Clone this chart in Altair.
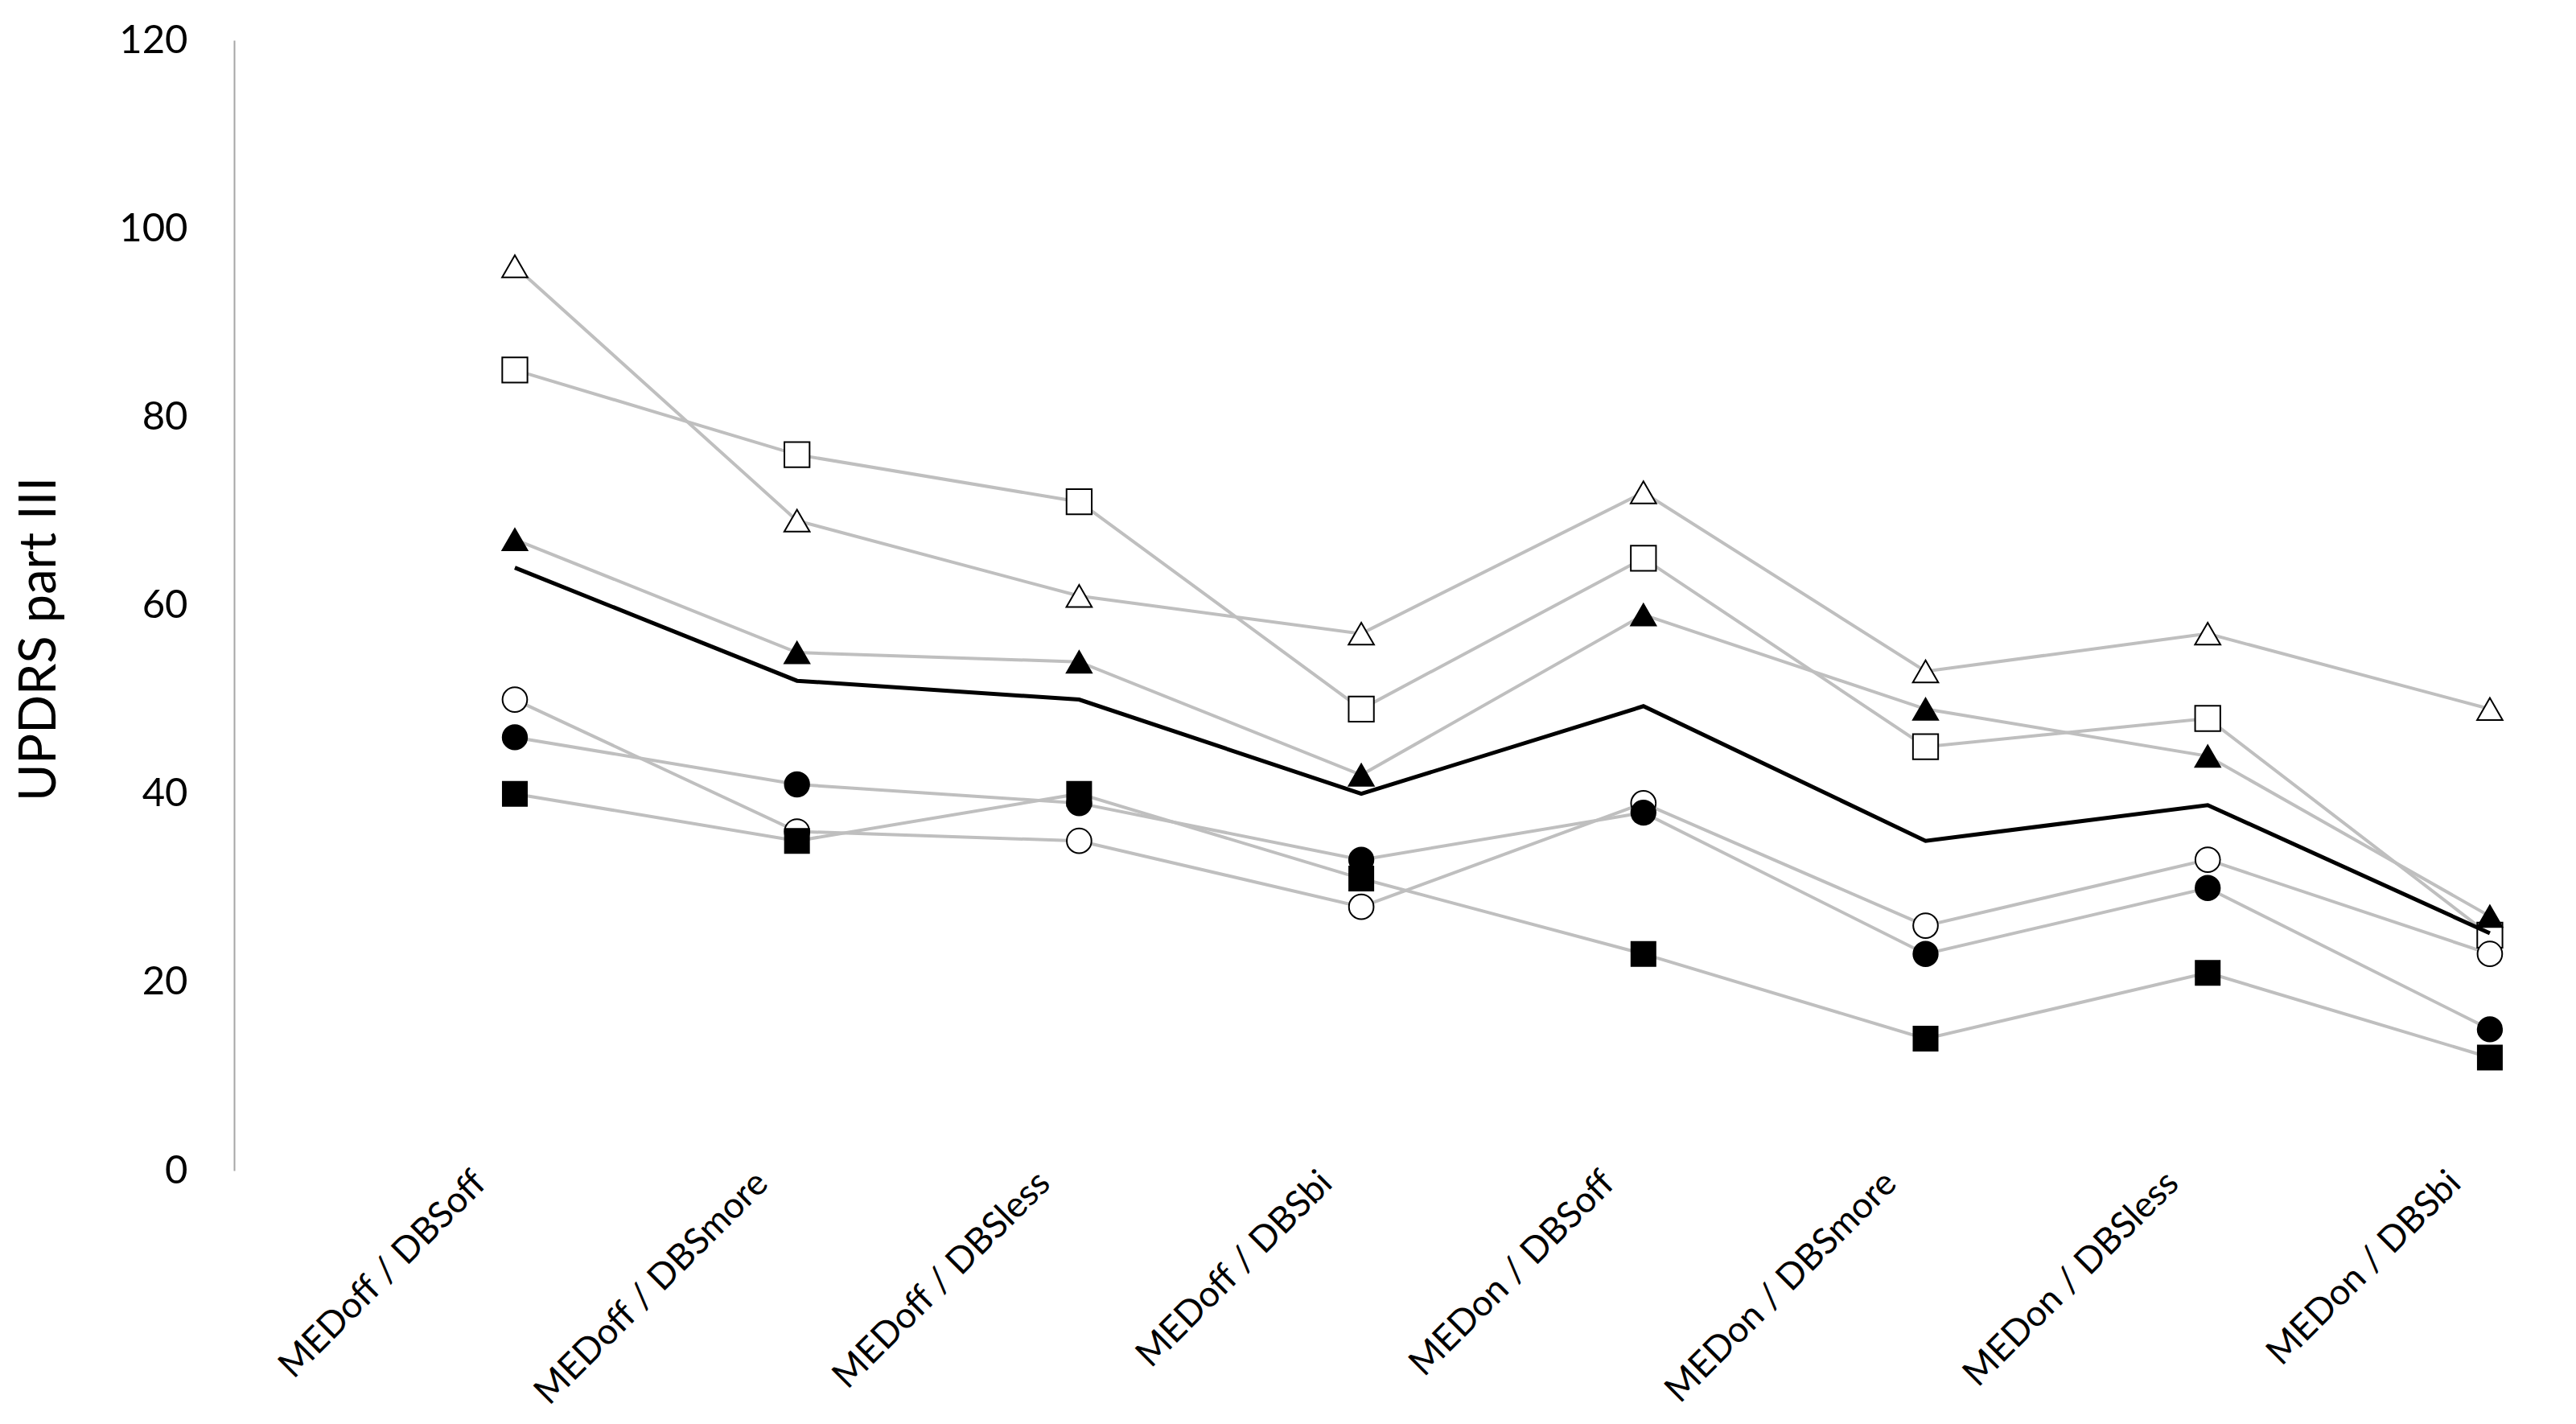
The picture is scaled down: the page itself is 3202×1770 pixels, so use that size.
import altair as alt
import pandas as pd

categories = ["MEDoff / DBSoff", "MEDoff / DBSmore", "MEDoff / DBSless", "MEDoff / DBSbi",
              "MEDon / DBSoff", "MEDon / DBSmore", "MEDon / DBSless", "MEDon / DBSbi"]

open_triangle = [96, 69, 61, 57, 72, 53, 57, 49]
open_square = [85, 76, 71, 49, 65, 45, 48, 25]
filled_triangle = [67, 55, 54, 42, 59, 49, 44, 27]
open_circle = [50, 36, 35, 28, 39, 26, 33, 23]
filled_circle = [46, 41, 39, 33, 38, 23, 30, 15]
filled_square = [40, 35, 40, 31, 23, 14, 21, 12]
mean_line = [64, 52, 50, 40, 49.3, 35, 38.8, 25.2]

y_ticks = [0, 20, 40, 60, 80, 100, 120]

series_names = ["open_triangle", "open_square", "filled_triangle",
                "open_circle", "filled_circle", "filled_square"]
series_values = [open_triangle, open_square, filled_triangle,
                 open_circle, filled_circle, filled_square]
series_shapes = ["triangle-up", "square", "triangle-up", "circle", "circle", "square"]
series_fills = ["white", "white", "black", "white", "black", "black"]
series_sizes = [1000, 900, 1000, 850, 850, 900]

rows = []
for name, vals in zip(series_names, series_values):
    for i, (c, v) in enumerate(zip(categories, vals)):
        rows.append({"series": name, "cat": c, "order": i, "value": v})
df = pd.DataFrame(rows)
mean_df = pd.DataFrame({"cat": categories, "order": list(range(len(categories))), "value": mean_line})

FONT = "Lato"

x_enc = alt.X(
    "cat:N", sort=categories, title=None,
    scale=alt.Scale(type="point", padding=0.6188, align=0.804),
    axis=alt.Axis(domain=False, ticks=False, tickSize=0, grid=False,
                  labelAngle=-45, labelAlign="right", labelBaseline="middle",
                  labelFont=FONT, labelFontSize=45, labelColor="#000000",
                  labelPadding=8, labelOffset=-44, labelOverlap=False, labelLimit=0),
)
y_enc = alt.Y(
    "value:Q", title="UPDRS part III",
    scale=alt.Scale(domain=[0, 120], nice=False, zero=True),
    axis=alt.Axis(values=y_ticks, domain=True, domainColor="#A6A6A6", domainWidth=2,
                  ticks=False, grid=False,
                  labelFont=FONT, labelFontSize=49, labelColor="#000000", labelPadding=58,
                  titleFont=FONT, titleFontSize=63, titleFontWeight="normal", titleColor="#000000",
                  titleAngle=270, titleAlign="center", titleBaseline="alphabetic",
                  titleX=-223, titleY=744),
)

gray_lines = alt.Chart(df).mark_line(color="#BFBFBF", strokeWidth=4).encode(
    x=x_enc, y=y_enc, detail="series:N", order="order:Q"
)

points = alt.Chart(df).mark_point(filled=False, stroke="black", strokeWidth=2, opacity=1).encode(
    x=x_enc, y=y_enc,
    shape=alt.Shape("series:N", scale=alt.Scale(domain=series_names, range=series_shapes), legend=None),
    fill=alt.Fill("series:N", scale=alt.Scale(domain=series_names, range=series_fills), legend=None),
    size=alt.Size("series:N", scale=alt.Scale(domain=series_names, range=series_sizes), legend=None),
)

black_line = alt.Chart(mean_df).mark_line(color="black", strokeWidth=5).encode(
    x=x_enc, y=y_enc, order="order:Q"
)

chart = alt.layer(gray_lines, points, black_line).properties(
    width=2889, height=1405,
    autosize=alt.AutoSizeParams(type="none"),
    padding={"left": 283, "top": 42, "right": 14, "bottom": 307},
    background="white",
).configure_view(stroke=None)

chart.save("out.html", embed_options={"renderer": "svg", "actions": False})
